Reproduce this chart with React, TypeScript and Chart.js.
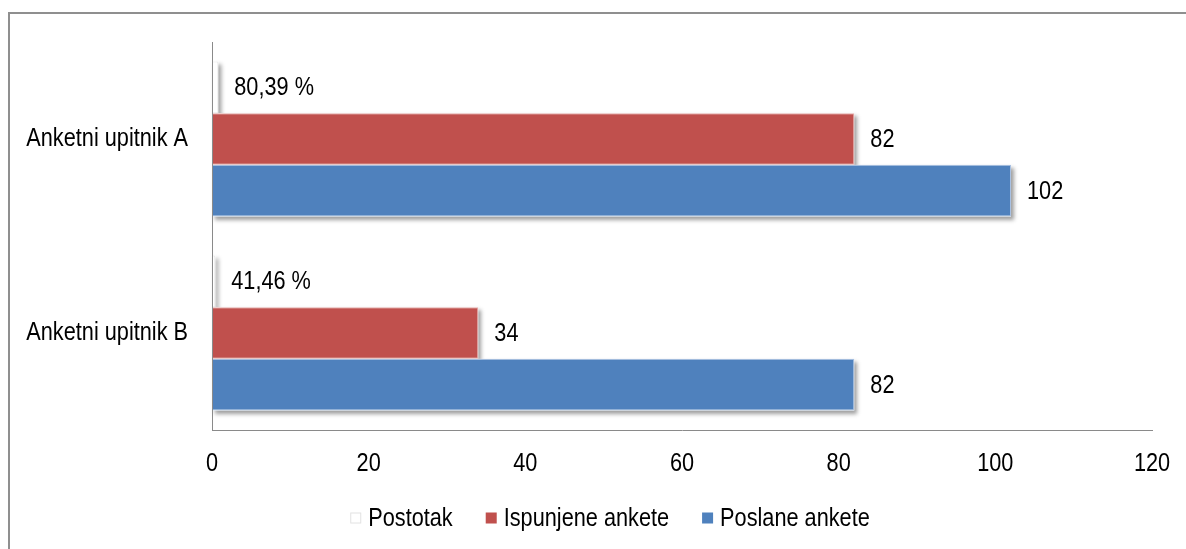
import React, { useEffect, useRef } from "react";
import { Chart, registerables } from "chart.js";

Chart.register(...registerables);

// ---- data ----
const categories = ["Anketni upitnik A", "Anketni upitnik B"];
const seriesNames = ["Postotak", "Ispunjene ankete", "Poslane ankete"];
const postotak = [0.8039, 0.4146];
const ispunjene = [82, 34];
const poslane = [102, 82];
const xMin = 0;
const xMax = 120;
const xStep = 20;

const FONT = '"Liberation Sans", Arial, sans-serif';
const FONT_SIZE = 26;
const NARROW = 0.835; // horizontal squeeze to imitate a narrow face

const fillColors = ["#ffffff", "#C0504D", "#4F81BD"];
const edgeColors = ["#e6e6e6", "#E3AAA8", "#A9C1E2"];

function formatValue(dsIndex: number, v: number): string {
  if (dsIndex === 0) return (v * 100).toFixed(2).replace(".", ",") + " %";
  return String(v);
}

function narrowText(ctx: any, text: string, x: number, y: number, align: CanvasTextAlign) {
  ctx.save();
  ctx.translate(x, y);
  ctx.scale(NARROW, 1);
  ctx.textAlign = align;
  ctx.textBaseline = "middle";
  ctx.fillText(text, 0, 0);
  ctx.restore();
}

const shadowPlugin = {
  id: "barShadows",
  beforeDatasetsDraw(chart: any) {
    const ctx = chart.ctx;
    ctx.save();
    ctx.shadowColor = "rgba(0,0,0,0.38)";
    ctx.shadowBlur = 4;
    ctx.shadowOffsetX = 3;
    ctx.shadowOffsetY = 3;
    ctx.fillStyle = "#ffffff";
    chart.data.datasets.forEach((_: any, di: number) => {
      const meta = chart.getDatasetMeta(di);
      meta.data.forEach((el: any) => {
        const { x, y, base, height } = el.getProps(["x", "y", "base", "height"], true);
        const left = Math.min(base, x);
        const w = Math.max(Math.abs(x - base), 1);
        ctx.fillRect(left, y - height / 2, w, height);
      });
    });
    ctx.restore();
  },
};

const textPlugin = {
  id: "narrowTexts",
  afterDraw(chart: any) {
    const ctx = chart.ctx;
    ctx.save();
    ctx.font = `${FONT_SIZE}px ${FONT}`;
    ctx.fillStyle = "#000";

    // value labels
    chart.data.datasets.forEach((ds: any, di: number) => {
      const meta = chart.getDatasetMeta(di);
      meta.data.forEach((el: any, i: number) => {
        const { x, y } = el.getProps(["x", "y"], true);
        narrowText(ctx, formatValue(di, ds.data[i]), x + 16, y + 1, "left");
      });
    });

    // x tick labels
    const xs = chart.scales.x;
    xs.ticks.forEach((t: any) => {
      narrowText(ctx, String(t.value), xs.getPixelForValue(t.value), xs.top + 34, "center");
    });

    // y tick labels
    const ys = chart.scales.y;
    chart.data.labels.forEach((lab: string, i: number) => {
      narrowText(ctx, lab, ys.right - 24, ys.getPixelForValue(i), "right");
    });

    // legend
    const box = 11;
    const gapText = 7;
    const gapItem = 33;
    const ds = chart.data.datasets;
    const widths = ds.map((d: any) => box + gapText + ctx.measureText(d.label).width * NARROW);
    const total = widths.reduce((a: number, b: number) => a + b, 0) + gapItem * (ds.length - 1);
    const centerX = 600;
    const cy = 504;
    let x = centerX - total / 2;
    ds.forEach((d: any, i: number) => {
      ctx.fillStyle = d.backgroundColor;
      ctx.fillRect(x, cy - box / 2, box, box);
      if (i === 0) {
        ctx.strokeStyle = "#e2e2e2";
        ctx.lineWidth = 1;
        ctx.strokeRect(x + 0.5, cy - box / 2 + 0.5, box - 1, box - 1);
      }
      ctx.fillStyle = "#000";
      narrowText(ctx, d.label, x + box + gapText, cy + 1, "left");
      x += widths[i] + gapItem;
    });
    ctx.restore();
  },
};

export default function App() {
  const canvasRef = useRef<HTMLCanvasElement | null>(null);

  useEffect(() => {
    if (!canvasRef.current) return;
    const seriesData = [postotak, ispunjene, poslane];
    const chart = new Chart(canvasRef.current, {
      type: "bar",
      data: {
        labels: categories,
        datasets: seriesNames.map((name, i) => ({
          label: name,
          data: seriesData[i],
          backgroundColor: fillColors[i],
          borderColor: edgeColors[i],
          borderWidth: 1,
          categoryPercentage: 0.8,
          barPercentage: 1.0,
        })),
      },
      options: {
        indexAxis: "y",
        responsive: false,
        animation: false,
        devicePixelRatio: 1,
        layout: { padding: { top: 28, right: 34, bottom: 69, left: 0 } },
        plugins: {
          legend: { display: false },
          tooltip: { enabled: false },
        },
        scales: {
          x: {
            min: xMin,
            max: xMax,
            ticks: {
              stepSize: xStep,
              padding: 20,
              color: "rgba(0,0,0,0)",
              font: { family: FONT, size: FONT_SIZE },
            },
            grid: { display: false, drawTicks: false },
            border: { display: true, color: "#8a8a8a", width: 1, z: 1 },
            afterFit(scale: any) {
              scale.height = 50;
              scale.paddingLeft = 0;
              scale.paddingRight = 0;
            },
          },
          y: {
            ticks: {
              padding: 24,
              color: "rgba(0,0,0,0)",
              font: { family: FONT, size: FONT_SIZE },
            },
            grid: { display: false, drawTicks: false },
            border: { display: true, color: "#8a8a8a", width: 1, z: 1 },
            afterFit(scale: any) {
              scale.width = 202;
              scale.paddingTop = 0;
              scale.paddingBottom = 0;
            },
          },
        },
      } as any,
      plugins: [shadowPlugin, textPlugin],
    });
    return () => chart.destroy();
  }, []);

  return (
    <div
      style={{
        position: "fixed",
        left: 8,
        top: 12,
        width: 1178,
        height: 537,
        boxSizing: "border-box",
        borderTop: "2px solid #8f8f8f",
        borderLeft: "2px solid #8f8f8f",
        background: "#fff",
      }}
    >
      <canvas
        ref={canvasRef}
        width={1176}
        height={535}
        style={{ display: "block", width: 1176, height: 535 }}
      />
    </div>
  );
}
